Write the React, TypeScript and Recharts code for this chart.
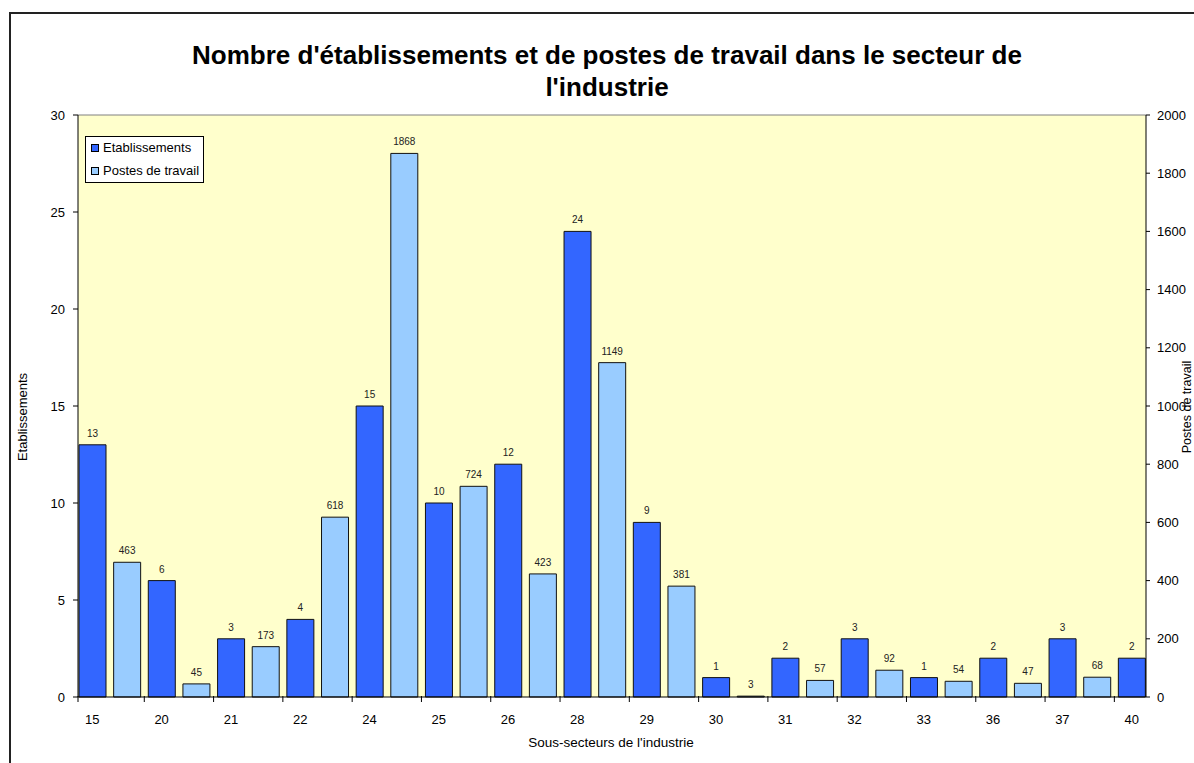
import { BarChart, Bar, XAxis, YAxis, CartesianGrid, ReferenceLine, LabelList } from "recharts"

const categories = ["15", "20", "21", "22", "24", "25", "26", "28", "29", "30", "31", "32", "33", "36", "37", "40"]
const etablissements = [13, 6, 3, 4, 15, 10, 12, 24, 9, 1, 2, 3, 1, 2, 3, 2]
const postes = [463, 45, 173, 618, 1868, 724, 423, 1149, 381, 3, 57, 92, 54, 47, 68]
const etabTicks = [0, 5, 10, 15, 20, 25, 30]
const postesTicks = [0, 200, 400, 600, 800, 1000, 1200, 1400, 1600, 1800, 2000]

const FONT = '"Liberation Sans", Arial, Helvetica, sans-serif'
const DARK = "#3366FF"
const LIGHT = "#99CCFF"

// one slot per bar: dark bar of each sub-sector, then its light bar
const data = categories.flatMap((cat, i) => {
  const rows: { key: string; etab?: number; postes?: number }[] = [{ key: cat, etab: etablissements[i] }]
  if (i < postes.length) rows.push({ key: cat + "+", postes: postes[i] })
  return rows
})

const W = 1183
const H = 749
const PLOT_LEFT = 67
const PLOT_RIGHT = 1135
const PAD = -3
const SLOT = (PLOT_RIGHT - PLOT_LEFT - 2 * PAD) / data.length

function CategoryTick({ x, y, payload }: any) {
  const key = String(payload.value)
  if (key.endsWith("+")) return <g />
  const tx = Math.max(x - SLOT / 2, PLOT_LEFT)
  return (
    <g>
      <line x1={tx} x2={tx} y1={y - 1} y2={y + 5} stroke="#000" />
      <text x={x} y={y + 27} textAnchor="middle" fontSize={13} fill="#000" fontFamily={FONT}>
        {key}
      </text>
    </g>
  )
}

function LegendBox() {
  const items = [
    { label: "Etablissements", color: DARK },
    { label: "Postes de travail", color: LIGHT },
  ]
  return (
    <div
      style={{
        position: "absolute",
        left: 74,
        top: 122,
        width: 119,
        height: 47,
        boxSizing: "border-box",
        border: "1px solid #000",
        background: "#fff",
      }}
    >
      {items.map((it, i) => (
        <div key={it.label} style={{ position: "absolute", left: 5, top: 3 + i * 23, height: 16, lineHeight: "16px", fontSize: 13, whiteSpace: "nowrap" }}>
          <span
            style={{
              position: "absolute",
              left: 0,
              top: 4,
              width: 8,
              height: 8,
              boxSizing: "border-box",
              border: "1px solid #000",
              background: it.color,
            }}
          />
          <span style={{ position: "absolute", left: 12, top: 0 }}>{it.label}</span>
        </div>
      ))}
    </div>
  )
}

export default function App() {
  return (
    <div
      style={{
        position: "absolute",
        left: 9,
        top: 12,
        width: 1185,
        height: 751,
        boxSizing: "border-box",
        borderLeft: "2px solid #222",
        borderTop: "2px solid #222",
        overflow: "hidden",
        background: "#fff",
        fontFamily: FONT,
        color: "#000",
      }}
    >
      <div
        style={{
          position: "absolute",
          left: 0,
          top: 25,
          width: 1192,
          textAlign: "center",
          fontWeight: "bold",
          fontSize: 26,
          lineHeight: "32px",
        }}
      >
        Nombre d'établissements et de postes de travail dans le secteur de
        <br />
        l'industrie
      </div>

      <BarChart
        width={W}
        height={H}
        data={data}
        margin={{ top: 101, right: 0, bottom: 0, left: 0 }}
        barGap={-27}
        style={{ fontFamily: FONT }}
      >
        <CartesianGrid yAxisId="left" horizontal={false} vertical={false} fill="#FFFFCC" fillOpacity={1} />
        <XAxis
          dataKey="key"
          interval={0}
          height={66}
          padding={{ left: PAD, right: PAD }}
          tickLine={false}
          tickSize={0}
          tickMargin={0}
          axisLine={{ stroke: "#000" }}
          tick={<CategoryTick />}
        />
        <YAxis
          yAxisId="left"
          orientation="left"
          width={67}
          domain={[0, 30]}
          ticks={etabTicks}
          interval={0}
          tickSize={5}
          tickMargin={8}
          axisLine={{ stroke: "#000" }}
          tickLine={{ stroke: "#000" }}
          tick={{ fontSize: 13, fill: "#000" }}
        />
        <YAxis
          yAxisId="right"
          orientation="right"
          width={48}
          domain={[0, 2000]}
          ticks={postesTicks}
          interval={0}
          tickSize={4}
          tickMargin={7}
          axisLine={{ stroke: "#000" }}
          tickLine={{ stroke: "#000" }}
          tick={{ fontSize: 13, fill: "#000", textAnchor: "start" }}
        />
        <ReferenceLine yAxisId="left" y={30} stroke="#808080" />
        <Bar yAxisId="left" dataKey="etab" fill={DARK} stroke="#111" strokeWidth={1} barSize={27} isAnimationActive={false}>
          <LabelList dataKey="etab" position="top" offset={8} fontSize={10} fill="#222" />
        </Bar>
        <Bar yAxisId="right" dataKey="postes" fill={LIGHT} stroke="#111" strokeWidth={1} barSize={27} isAnimationActive={false}>
          <LabelList dataKey="postes" position="top" offset={8} fontSize={10} fill="#222" />
        </Bar>
      </BarChart>

      <LegendBox />

      <div
        style={{
          position: "absolute",
          left: 11.5 - 60,
          top: 403 - 8,
          width: 120,
          height: 16,
          lineHeight: "16px",
          fontSize: 13,
          textAlign: "center",
          transform: "rotate(-90deg)",
          whiteSpace: "nowrap",
        }}
      >
        Etablissements
      </div>
      <div
        style={{
          position: "absolute",
          left: 1175.5 - 60,
          top: 392.5 - 8,
          width: 120,
          height: 16,
          lineHeight: "16px",
          fontSize: 12.5,
          textAlign: "center",
          transform: "rotate(-90deg)",
          whiteSpace: "nowrap",
        }}
      >
        Postes de travail
      </div>
      <div
        style={{
          position: "absolute",
          left: 500,
          top: 721,
          width: 200,
          height: 16,
          lineHeight: "16px",
          fontSize: 13.5,
          textAlign: "center",
          whiteSpace: "nowrap",
        }}
      >
        Sous-secteurs de l'industrie
      </div>
    </div>
  )
}
